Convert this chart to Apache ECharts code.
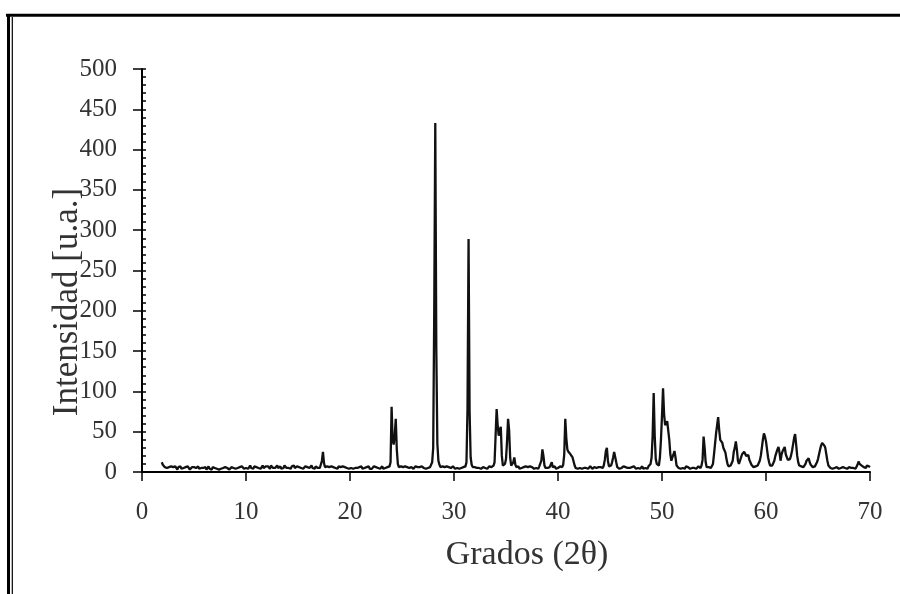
<!DOCTYPE html>
<html>
<head>
<meta charset="utf-8">
<script src="https://cdn.jsdelivr.net/npm/echarts@6/dist/echarts.min.js"></script>
<style>
  html, body { margin: 0; padding: 0; background: #fff; }
  #chart { width: 900px; height: 594px; }
</style>
</head>
<body>
<div id="chart"></div>
<script>
const thetaStep = 0.1;
const segmentStarts = [1.9, 10.0, 20.0, 30.0, 40.0, 50.0, 60.0];

const int02_09 = [
  12,
  9, 10, 6, 8, 5, 7, 6, 4, 7, 5,
  6, 4, 7, 5, 3, 6, 5, 7, 4, 6,
  5, 3, 6, 4, 7, 5, 3, 5, 6, 4,
  6, 4, 5, 3, 7, 4, 6, 5, 3, 5,
  4, 6, 3, 5, 7, 4, 5, 3, 6, 4,
  5, 7, 4, 6, 3, 5, 4, 6, 5, 3,
  6, 4, 5, 7, 3, 5, 6, 4, 5, 7,
  4, 6, 5, 3, 6, 4, 7, 5, 4, 6
];
const int10_19 = [
  5, 7, 4, 6, 8, 5, 6, 4, 7, 5,
  6, 8, 5, 7, 4, 6, 8, 5, 6, 7,
  5, 7, 6, 4, 8, 6, 5, 7, 5, 6,
  8, 5, 6, 7, 4, 6, 5, 8, 6, 5,
  7, 5, 6, 4, 7, 6, 8, 5, 6, 7,
  5, 6, 8, 5, 7, 4, 6, 7, 5, 6,
  7, 5, 6, 8, 5, 6, 4, 7, 6, 5,
  6, 5, 7, 14, 25, 11, 6, 5, 7, 5,
  6, 4, 7, 5, 6, 8, 5, 6, 4, 7,
  5, 6, 4, 7, 5, 6, 8, 5, 6, 4
];
const int20_29 = [
  6, 5, 7, 4, 6, 5, 7, 5, 4, 6,
  5, 7, 4, 6, 5, 3, 6, 5, 7, 4,
  6, 4, 5, 7, 5, 6, 4, 5, 6, 4,
  5, 7, 4, 6, 5, 4, 6, 5, 7, 12,
  81, 40, 34, 45, 66, 28, 10, 6, 5, 7,
  5, 6, 4, 7, 5, 6, 4, 5, 7, 6,
  5, 4, 6, 7, 5, 6, 4, 6, 5, 7,
  6, 5, 7, 4, 6, 5, 7, 6, 8, 12,
  30, 200, 433, 150, 35, 14, 9, 6, 5, 7,
  5, 6, 4, 7, 5, 6, 4, 5, 6, 7
];
const int30_39 = [
  5, 4, 6, 5, 7, 4, 6, 5, 4, 6,
  5, 7, 12, 80, 289, 75, 18, 9, 6, 5,
  6, 4, 5, 7, 5, 6, 4, 5, 6, 7,
  5, 6, 4, 5, 7, 5, 6, 5, 8, 12,
  45, 78, 58, 45, 52, 56, 20, 8, 6, 10,
  16, 38, 66, 52, 18, 8, 7, 12, 18, 9,
  6, 5, 7, 4, 6, 5, 4, 6, 5, 7,
  5, 6, 4, 7, 5, 6, 5, 4, 6, 5,
  6, 4, 7, 5, 14, 28, 20, 8, 5, 6,
  5, 7, 6, 9, 12, 6, 5, 7, 4, 6
];
const int40_49 = [
  5, 6, 7, 5, 6, 9, 22, 66, 42, 28,
  25, 27, 22, 20, 18, 19, 8, 5, 6, 4,
  6, 5, 7, 4, 6, 5, 7, 5, 6, 4,
  5, 7, 6, 4, 5, 6, 7, 5, 4, 6,
  5, 6, 7, 5, 8, 15, 26, 30, 14, 7,
  6, 8, 12, 18, 25, 26, 12, 6, 5, 4,
  6, 5, 4, 7, 5, 6, 4, 5, 7, 5,
  4, 6, 5, 7, 5, 4, 6, 5, 6, 4,
  5, 7, 4, 6, 5, 6, 4, 7, 5, 10,
  18, 45, 98, 45, 16, 10, 8, 8, 18, 40
];
const int50_59 = [
  70, 104, 72, 58, 60, 63, 64, 40, 22, 14,
  15, 22, 26, 18, 8, 6, 5, 7, 4, 6,
  5, 6, 4, 7, 5, 6, 5, 4, 6, 5,
  7, 5, 6, 4, 5, 7, 6, 5, 8, 15,
  44, 30, 12, 6, 5, 6, 7, 5, 6, 10,
  22, 35, 48, 58, 68, 52, 40, 38, 36, 30,
  27, 24, 16, 10, 7, 6, 8, 9, 14, 25,
  30, 38, 28, 14, 10, 12, 18, 22, 20, 25,
  27, 20, 22, 21, 15, 12, 9, 7, 6, 8,
  7, 6, 8, 10, 14, 20, 30, 40, 48, 44
];
const int60_70 = [
  38, 28, 18, 12, 8, 7, 8, 10, 14, 20,
  24, 28, 31, 24, 14, 22, 26, 28, 31, 22,
  22, 15, 14, 16, 20, 26, 34, 42, 47, 34,
  20, 12, 8, 6, 7, 5, 6, 8, 10, 14,
  16, 17, 12, 9, 7, 6, 8, 7, 9, 12,
  16, 22, 28, 33, 36, 38, 33, 30, 22, 14,
  8, 6, 5, 7, 4, 6, 5, 4, 6, 5,
  4, 6, 5, 3, 6, 4, 5, 6, 4, 5,
  6, 4, 5, 3, 5, 6, 4, 6, 9, 13,
  10, 11, 8, 9, 6, 7, 5, 8, 6, 7,
  6
];

const xTitle = 'Grados (2θ)';
const yTitle = 'Intensidad [u.a.]';

// ---- Build series points ----
const segments = [int02_09, int10_19, int20_29, int30_39, int40_49, int50_59, int60_70];
const points = [];
segments.forEach((vals, s) => {
  vals.forEach((v, i) => {
    points.push([+(segmentStarts[s] + i * thetaStep).toFixed(2), v]);
  });
});

const serif = '"Liberation Serif", "DejaVu Serif", serif';
const textColor = '#333';

const chart = echarts.init(document.getElementById('chart'), null, { renderer: 'canvas' });
chart.setOption({
  animation: false,
  backgroundColor: '#fff',
  grid: { left: 142, right: 30, top: 69, bottom: 122, containLabel: false },
  xAxis: {
    type: 'value',
    min: 0, max: 70, interval: 10,
    axisLine: { show: true, lineStyle: { color: '#000', width: 2 } },
    axisTick: { show: true, inside: false, length: 9, lineStyle: { color: '#000', width: 1.5 } },
    axisLabel: { margin: 28, color: textColor, fontFamily: serif, fontSize: 25 },
    splitLine: { show: false }
  },
  yAxis: [
    {
      type: 'value',
      min: 0, max: 500, interval: 50,
      axisLine: { show: true, lineStyle: { color: '#000', width: 2 } },
      axisTick: { show: true, inside: true, length: 4, lineStyle: { color: '#000', width: 1.5 } },
      minorTick: { show: true, splitNumber: 5, length: 4, lineStyle: { color: '#000', width: 1.5 } },
      axisLabel: { margin: 25, color: textColor, fontFamily: serif, fontSize: 25 },
      splitLine: { show: false }
    },
    {
      type: 'value',
      position: 'left',
      min: 0, max: 500, interval: 50,
      axisLine: { show: false },
      axisTick: { show: true, inside: false, length: 9, lineStyle: { color: '#000', width: 1.5 } },
      axisLabel: { show: false },
      splitLine: { show: false }
    }
  ],
  series: [{
    type: 'line',
    data: points,
    yAxisIndex: 0,
    showSymbol: false,
    symbol: 'none',
    smooth: false,
    lineStyle: { color: '#111', width: 2.3 },
    silent: true
  }],
  graphic: [
    { type: 'line', shape: { x1: 6, y1: 15.3, x2: 900, y2: 15.3 }, style: { stroke: '#000', lineWidth: 3 } },
    { type: 'line', shape: { x1: 8.5, y1: 14, x2: 8.5, y2: 594 }, style: { stroke: '#000', lineWidth: 3 } },
    { type: 'line', shape: { x1: 12.3, y1: 17, x2: 12.3, y2: 594 }, style: { stroke: '#000', lineWidth: 1.2 } },
    {
      type: 'text', x: 527, y: 555,
      style: { text: xTitle, align: 'center', verticalAlign: 'middle', fontFamily: serif, fontSize: 34, fill: textColor }
    },
    {
      type: 'text', x: 68, y: 302, rotation: Math.PI / 2,
      style: { text: yTitle, align: 'center', verticalAlign: 'middle', fontFamily: serif, fontSize: 35, fill: textColor }
    }
  ]
});
</script>
</body>
</html>
